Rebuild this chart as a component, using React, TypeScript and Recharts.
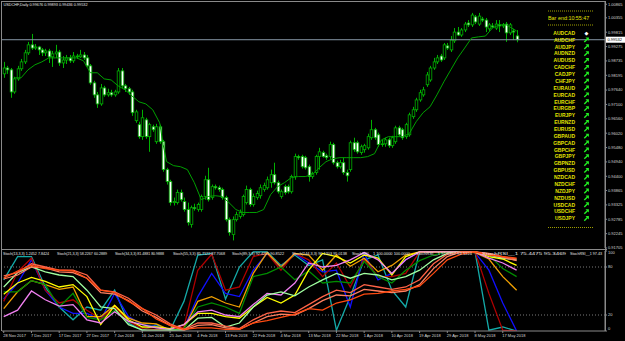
import React from "react";
import { ComposedChart, Bar, Line, XAxis, YAxis, ReferenceLine } from "recharts";

// daily candles, oldest first
const OPEN = [
  0.9825, 0.9847, 0.984, 0.9757, 0.9806, 0.9844, 0.987, 0.9904, 0.9934, 0.9922,
  0.9926, 0.9915, 0.9904, 0.9911, 0.9889, 0.99, 0.9907, 0.9866, 0.9877, 0.9885,
  0.9874, 0.9892, 0.9889, 0.9896, 0.9885, 0.9855, 0.9791, 0.9746, 0.9712, 0.9772,
  0.9746, 0.9754, 0.9746, 0.9757, 0.9836, 0.978, 0.9769, 0.9757, 0.9649, 0.9634,
  0.9589, 0.9652, 0.9589, 0.9626, 0.957, 0.9626, 0.957, 0.9465, 0.942, 0.9341,
  0.9341, 0.9379, 0.9345, 0.9315, 0.9259, 0.9322, 0.9315, 0.9315, 0.9364, 0.9427,
  0.936, 0.9401, 0.9397, 0.939, 0.936, 0.9277, 0.9221, 0.9277, 0.9289, 0.9296,
  0.9341, 0.939, 0.9334, 0.936, 0.9367, 0.939, 0.9397, 0.9416, 0.9446, 0.9416,
  0.9364, 0.9401, 0.9401, 0.9382, 0.9439, 0.9514, 0.9514, 0.951, 0.9476, 0.9439,
  0.9454, 0.9514, 0.9529, 0.9517, 0.9514, 0.9559, 0.9491, 0.9476, 0.9491, 0.9454,
  0.9465, 0.9566, 0.9566, 0.9529, 0.954, 0.9547, 0.9585, 0.9615, 0.9596, 0.9559,
  0.9562, 0.9577, 0.9555, 0.957, 0.9622, 0.9615, 0.9589, 0.9596, 0.9664, 0.969,
  0.9727, 0.9746, 0.9784, 0.9802, 0.9847, 0.987, 0.9892, 0.9885, 0.993, 0.9915,
  0.9949, 0.9982, 0.9971, 0.999, 1.0016, 1.0009, 1.0039, 1.0012, 1.0031, 1.0027,
  0.9994, 1.0005, 0.9997, 1.0009, 1.0005, 1.0012, 0.9979, 0.9986, 0.99676,
];
const HIGH = [
  0.987, 0.9855, 0.9847, 0.9814, 0.9855, 0.9881, 0.9915, 0.9945, 0.9975, 0.9937,
  0.993, 0.9922, 0.9919, 0.9919, 0.9911, 0.9934, 0.9915, 0.9892, 0.9896, 0.9896,
  0.9907, 0.99, 0.9915, 0.9907, 0.9896, 0.9862, 0.9799, 0.9757, 0.9787, 0.978,
  0.9769, 0.9765, 0.9765, 0.9847, 0.9847, 0.9787, 0.9776, 0.9765, 0.969, 0.9645,
  0.969, 0.966, 0.9641, 0.9634, 0.9637, 0.9634, 0.9577, 0.9472, 0.9427, 0.936,
  0.939, 0.939, 0.936, 0.9341, 0.933, 0.9337, 0.9341, 0.9371, 0.9442, 0.9472,
  0.9409, 0.9409, 0.9405, 0.9397, 0.9367, 0.9285, 0.9289, 0.9307, 0.9315, 0.9371,
  0.9405, 0.9397, 0.9375, 0.9386, 0.9409, 0.9416, 0.9439, 0.9465, 0.9491, 0.9424,
  0.939, 0.9409, 0.9409, 0.9446, 0.9525, 0.9521, 0.9521, 0.9517, 0.9484, 0.9457,
  0.9521, 0.9547, 0.9536, 0.9525, 0.957, 0.9566, 0.9499, 0.9502, 0.951, 0.9465,
  0.9574, 0.9585, 0.9574, 0.9559, 0.9562, 0.96, 0.9652, 0.9622, 0.9604, 0.9577,
  0.9585, 0.9585, 0.9592, 0.963, 0.963, 0.9622, 0.9641, 0.9679, 0.9701, 0.9735,
  0.9765, 0.9776, 0.9832, 0.9855, 0.9885, 0.9896, 0.99, 0.9941, 0.9941, 0.9967,
  0.9997, 1.0001, 0.9997, 1.002, 1.0027, 1.0054, 1.0046, 1.0054, 1.0039, 1.0035,
  1.0016, 1.0016, 1.0027, 1.0027, 1.0016, 1.002, 1.0016, 0.9994, 0.99893,
];
const LOW = [
  0.981, 0.9825, 0.9735, 0.975, 0.9799, 0.9836, 0.9862, 0.9896, 0.9915, 0.9915,
  0.9896, 0.9892, 0.9892, 0.9866, 0.9851, 0.9885, 0.9855, 0.9847, 0.9862, 0.9866,
  0.9866, 0.9881, 0.9885, 0.9877, 0.9851, 0.9784, 0.9735, 0.9697, 0.9705, 0.9739,
  0.9739, 0.9739, 0.9739, 0.975, 0.9772, 0.9757, 0.9746, 0.9667, 0.9641, 0.9581,
  0.9577, 0.9581, 0.9532, 0.9607, 0.9562, 0.9562, 0.9457, 0.9409, 0.933, 0.933,
  0.9334, 0.9345, 0.9307, 0.9255, 0.9247, 0.9311, 0.9307, 0.9307, 0.9352, 0.9345,
  0.9352, 0.939, 0.9382, 0.9352, 0.927, 0.9217, 0.9199, 0.927, 0.9281, 0.9289,
  0.9334, 0.9326, 0.9326, 0.9352, 0.9356, 0.9382, 0.939, 0.9397, 0.9409, 0.9375,
  0.9356, 0.9371, 0.9375, 0.9375, 0.9427, 0.9502, 0.9469, 0.9465, 0.942, 0.9431,
  0.9446, 0.9465, 0.951, 0.9502, 0.9506, 0.9484, 0.9469, 0.9469, 0.9446, 0.942,
  0.9457, 0.9532, 0.9525, 0.9521, 0.9529, 0.954, 0.9577, 0.9577, 0.9551, 0.9551,
  0.9551, 0.9547, 0.9547, 0.9562, 0.9589, 0.9577, 0.9581, 0.9589, 0.9656, 0.9682,
  0.972, 0.9739, 0.9776, 0.9795, 0.984, 0.9862, 0.987, 0.9877, 0.9915, 0.9907,
  0.9941, 0.9967, 0.9964, 0.9982, 1.0001, 1.0001, 1.0012, 1.0005, 1.002, 0.9982,
  0.9986, 0.9997, 0.999, 0.9982, 0.9997, 0.9945, 0.9971, 0.9952, 0.99436,
];
const CLOSE = [
  0.9847, 0.984, 0.9757, 0.9806, 0.9844, 0.987, 0.9904, 0.9934, 0.9922, 0.9926,
  0.9915, 0.9904, 0.9911, 0.9889, 0.99, 0.9907, 0.9866, 0.9877, 0.9885, 0.9874,
  0.9892, 0.9889, 0.9896, 0.9885, 0.9855, 0.9791, 0.9746, 0.9712, 0.9772, 0.9746,
  0.9754, 0.9746, 0.9757, 0.9836, 0.978, 0.9769, 0.9757, 0.9679, 0.9682, 0.9589,
  0.966, 0.9589, 0.9634, 0.9615, 0.9626, 0.957, 0.9465, 0.942, 0.9341, 0.9345,
  0.9379, 0.9352, 0.9315, 0.9266, 0.9322, 0.9319, 0.9334, 0.9364, 0.9427, 0.9352,
  0.9401, 0.9397, 0.939, 0.936, 0.9277, 0.9229, 0.9277, 0.9296, 0.9304, 0.9364,
  0.939, 0.9334, 0.9364, 0.9375, 0.9397, 0.9405, 0.9427, 0.9446, 0.9416, 0.9382,
  0.9382, 0.9379, 0.9382, 0.9439, 0.9514, 0.951, 0.9476, 0.9472, 0.9439, 0.945,
  0.9514, 0.9532, 0.9514, 0.951, 0.9559, 0.9491, 0.9476, 0.9491, 0.9454, 0.9442,
  0.9566, 0.954, 0.9532, 0.9551, 0.9555, 0.9589, 0.9615, 0.9585, 0.9559, 0.9562,
  0.9577, 0.9555, 0.9585, 0.9622, 0.9596, 0.9585, 0.9634, 0.9671, 0.969, 0.9727,
  0.9754, 0.9765, 0.9821, 0.9847, 0.987, 0.9885, 0.9877, 0.9934, 0.9922, 0.9952,
  0.9982, 0.9971, 0.999, 1.0012, 1.0009, 1.0046, 1.002, 1.0042, 1.0027, 1.0001,
  1.0009, 1.0001, 1.0012, 1.0005, 1.0009, 0.9979, 1.0009, 0.9982, 0.99532,
];

// moving average, read at every other bar
const MA_BARS = [
  3, 5, 7, 9, 11, 13, 15, 17, 19, 21, 23, 25, 27, 29, 31, 33, 35, 37, 39, 41, 43, 45, 46,
  47, 49, 51, 53, 55, 57, 59, 61, 63, 65, 67, 69, 71, 73, 75, 77, 79, 81, 83, 85, 87, 89,
  91, 93, 95, 97, 99, 101, 103, 105, 107, 109, 111, 113, 115, 117, 119, 121, 123, 125,
  127, 129, 131, 133, 135, 137, 139, 141, 143, 145, 147, 148,
];
const MA = [
  0.981, 0.981, 0.984, 0.9859, 0.987, 0.9885, 0.9885, 0.9885, 0.9885, 0.9885, 0.9874,
  0.9829, 0.9829, 0.9806, 0.9802, 0.978, 0.9765, 0.9742, 0.972, 0.9712, 0.969, 0.9641,
  0.9559, 0.9495, 0.948, 0.9476, 0.9465, 0.9416, 0.9352, 0.9364, 0.9367, 0.9364, 0.9341,
  0.9315, 0.9304, 0.9304, 0.9304, 0.9315, 0.9371, 0.9401, 0.9416, 0.9435, 0.9439, 0.9439,
  0.9446, 0.9472, 0.9495, 0.9506, 0.951, 0.951, 0.951, 0.951, 0.9514, 0.9525, 0.9577,
  0.9589, 0.9589, 0.9589, 0.96, 0.9645, 0.9679, 0.9701, 0.9746, 0.9795, 0.984, 0.9885,
  0.9922, 0.996, 0.9964, 0.9967, 0.9997, 1.0009, 1.0009, 0.9994, 0.9986,
];

const SLOTS = 174; // bars plus the empty shift on the right
const BID = 0.99532;
const PRICE_TICKS = [
  1.00865, 1.00355, 0.99815, 0.99275, 0.98735, 0.98195, 0.9764, 0.971, 0.9656, 0.9602,
  0.9548, 0.9494, 0.944, 0.93865, 0.93325, 0.92785, 0.92245, 0.91705,
];
const DATE_TICKS = [0, 8, 16, 24, 32, 40, 48, 56, 64, 72, 80, 88, 96, 104, 112, 120, 128, 136, 144];
const DATE_LABELS = [
  "28 Nov 2017", "7 Dec 2017", "17 Dec 2017", "27 Dec 2017", "7 Jan 2018", "16 Jan 2018",
  "25 Jan 2018", "4 Feb 2018", "13 Feb 2018", "22 Feb 2018", "4 Mar 2018", "13 Mar 2018",
  "22 Mar 2018", "1 Apr 2018", "10 Apr 2018", "19 Apr 2018", "29 Apr 2018", "8 May 2018",
  "17 May 2018",
];

// oscillators, read every 4th bar
const STOCH_BARS = [
  0, 4, 8, 12, 16, 20, 24, 28, 32, 36, 40, 44, 48, 52, 56, 60, 64, 68, 72, 76, 80, 84, 88,
  92, 96, 100, 104, 108, 112, 116, 120, 124, 128, 132, 136, 140, 144, 148,
];
const TEAL = [64, 93, 93, 55, 30, 14, 30, 26, 51, 10, 1, 8, 1, 37, 95, 97, 40, 80, 99, 99, 82, 95, 82, 89, 1, 43, 89, 95, 51, 30, 99, 99, 99, 99, 99, 1, 5, 0];
const BLUE = [40, 60, 89, 51, 30, 22, 22, 14, 47, 18, 8, 6, 1, 3, 43, 72, 47, 43, 76, 97, 80, 97, 85, 74, 76, 30, 97, 64, 72, 89, 99, 99, 99, 99, 98, 76, 35, 0];
const DARKRED = [37, 74, 91, 51, 35, 39, 26, 15, 30, 12, 3, 2, 1, 5, 76, 96, 51, 55, 93, 97, 76, 97, 89, 68, 85, 55, 90, 68, 68, 72, 99, 99, 99, 99, 99, 47, 1, 0];
const ORANGE = [28, 49, 63, 58, 52, 55, 18, 18, 32, 16, 10, 9, 1, 3, 37, 43, 35, 30, 72, 98, 80, 97, 95, 76, 95, 81, 91, 74, 82, 95, 99, 99, 99, 99, 98, 90, 68, 51];
const DARKGREEN = [49, 49, 63, 58, 30, 47, 17, 14, 26, 12, 8, 5, 1, 3, 30, 35, 30, 22, 68, 72, 80, 64, 75, 60, 62, 60, 87, 68, 60, 76, 88, 95, 99, 99, 99, 95, 78, 68];
const YELLOW = [46, 60, 67, 62, 55, 58, 43, 8, 32, 14, 5, 5, 3, 8, 22, 22, 18, 16, 30, 42, 35, 45, 76, 97, 93, 85, 95, 91, 70, 93, 99, 99, 99, 99, 99, 93, 90, 82];
const VIOLET = [18, 26, 50, 39, 31, 33, 14, 10, 24, 12, 8, 4, 2, 8, 24, 26, 20, 18, 33, 47, 45, 60, 85, 80, 82, 89, 98, 89, 72, 89, 99, 99, 99, 99, 99, 91, 85, 76];
const LIGHTGREEN = [55, 73, 80, 74, 70, 68, 51, 30, 28, 8, 1, 1, 1, 1, 16, 17, 5, 10, 30, 45, 49, 44, 55, 64, 72, 66, 72, 70, 64, 68, 76, 89, 97, 99, 99, 95, 91, 89];
const CORAL = [65, 70, 80, 79, 74, 73, 66, 48, 46, 38, 25, 17, 7, 1, 7, 8, 4, 2, 10, 18, 21, 20, 28, 38, 45, 44, 52, 50, 48, 50, 58, 78, 93, 99, 99, 96, 92, 88];
const TOMATO = [69, 73, 84, 80, 76, 76, 70, 51, 49, 41, 28, 20, 9, 2, 10, 10, 6, 3, 14, 22, 25, 23, 33, 43, 51, 48, 58, 55, 52, 55, 64, 84, 96, 99, 99, 97, 93, 90];
const ORANGERED = [66, 75, 82, 78, 76, 75, 66, 51, 48, 37, 28, 15, 7, 2, 4, 4, 2, 2, 10, 13, 17, 21, 28, 26, 35, 39, 46, 47, 50, 52, 56, 72, 89, 96, 99, 95, 93, 91];

const STOCH_LEGEND = [
  { x: 3, w: 46, t: "Stoch(13,3,3) 1.2452 7.8424" },
  { x: 57, w: 50, t: "Stoch(21,3,3) 58.2267 60.2889" },
  { x: 115, w: 49, t: "Stoch(34,3,3) 81.4881 80.9888" },
  { x: 173, w: 52, t: "Stoch(55,3,3) 85.7122 87.7068" },
  { x: 232, w: 52, t: "Stoch(89,3,3) 92.4255 90.8522" },
  { x: 292, w: 55, t: "Stoch(144,3,3) 96.1203 95.0138" },
  { x: 352, w: 58, t: "StochRSI__1 100.0000 100.0000" },
  { x: 416, w: 56, t: "StochRSI__1 91.0357 93.1224" },
  { x: 482, w: 84, t: "StochRSI__1 75.4475 95.3469" },
  { x: 570, w: 32, t: "StochRSI__1 97.43" },
];

const PAIRS = [
  "AUDCAD", "AUDCHF", "AUDJPY", "AUDNZD", "AUDUSD", "CADCHF", "CADJPY", "CHFJPY", "EURAUD",
  "EURCAD", "EURCHF", "EURGBP", "EURJPY", "EURNZD", "EURUSD", "GBPAUD", "GBPCAD", "GBPCHF",
  "GBPJPY", "GBPNZD", "GBPUSD", "NZDCAD", "NZDCHF", "NZDJPY", "NZDUSD", "USDCAD", "USDCHF",
  "USDJPY",
];

const FONT = "'Liberation Sans', Arial, sans-serif";
const WICK = "#00b000";
const FRAME = "#8a8a8a";
const YELLOW_TXT = "#e2e200";

const priceRows: any[] = Array.from({ length: SLOTS }, (_, i) => {
  const has = i < OPEN.length;
  return {
    i,
    o: has ? OPEN[i] : null,
    h: has ? HIGH[i] : null,
    l: has ? LOW[i] : null,
    c: has ? CLOSE[i] : null,
    range: has ? [LOW[i], HIGH[i]] : null,
    ma: null,
  };
});
MA_BARS.forEach((b, k) => {
  priceRows[b].ma = MA[k];
});

const STOCH_LINES = [
  { key: "teal", vals: TEAL, color: "#14aaa8" },
  { key: "blue", vals: BLUE, color: "#1010ff" },
  { key: "darkred", vals: DARKRED, color: "#b00000" },
  { key: "orange", vals: ORANGE, color: "#f0a000" },
  { key: "darkgreen", vals: DARKGREEN, color: "#008c00" },
  { key: "yellow", vals: YELLOW, color: "#ffff00" },
  { key: "violet", vals: VIOLET, color: "#f080f0" },
  { key: "lightgreen", vals: LIGHTGREEN, color: "#a0ffa0" },
  { key: "coral", vals: CORAL, color: "#ff7f60" },
  { key: "tomato", vals: TOMATO, color: "#ff6347" },
  { key: "orangered", vals: ORANGERED, color: "#ff4a10" },
];

const stochRows: any[] = Array.from({ length: SLOTS }, (_, i) => ({ i }));
STOCH_BARS.forEach((b, k) => {
  STOCH_LINES.forEach((l) => {
    stochRows[b][l.key] = l.vals[k];
  });
});

function Candle(props: any) {
  const { x, y, width, height, payload } = props;
  if (!payload || payload.o == null || x == null) return null;
  const top = Math.min(y, y + height);
  const span = Math.abs(height);
  const k = span / (payload.h - payload.l);
  const yO = top + (payload.h - payload.o) * k;
  const yC = top + (payload.h - payload.c) * k;
  const cx = Math.round(x + width / 2) + 0.5;
  const bodyTop = Math.min(yO, yC);
  const bodyH = Math.max(Math.abs(yO - yC), 0.8);
  const bull = payload.c >= payload.o;
  return (
    <g>
      <line x1={cx} x2={cx} y1={top} y2={top + span} stroke={WICK} strokeWidth={1} />
      <rect
        x={cx - 1.3}
        y={bodyTop}
        width={2.6}
        height={bodyH}
        fill={bull ? "#000" : "#fff"}
        stroke={WICK}
        strokeWidth={0.8}
      />
    </g>
  );
}

function PriceBox(props: any) {
  const vb = props.viewBox;
  if (!vb) return null;
  const x = vb.x + vb.width;
  const y = vb.y;
  return (
    <g>
      <rect x={x + 0.5} y={y - 3} width={19.5} height={6} fill="#fff" />
      <text x={x + 2.5} y={y + 1.5} fontSize={4} fill="#000" fontFamily={FONT}>
        {BID.toFixed(5)}
      </text>
    </g>
  );
}

function DateTick(props: any) {
  const { x, y, payload } = props;
  const idx = DATE_TICKS.indexOf(payload.value);
  if (idx < 0) return null;
  return (
    <g>
      <line x1={x} x2={x} y1={y} y2={y + 2} stroke={FRAME} strokeWidth={1} />
      <text x={x - 0.5} y={y + 6.3} fontSize={4} fill="#d8d8d8" fontFamily={FONT} textAnchor="start">
        {DATE_LABELS[idx]}
      </text>
    </g>
  );
}

function LevelTick(props: any) {
  const { x, y, payload } = props;
  const v = payload.value;
  const dy = v === 100 ? 2 : v === 0 ? -2 : 0;
  return (
    <text x={x} y={y + dy + 1.4} fontSize={4} fill="#d8d8d8" fontFamily={FONT} textAnchor="start">
      {v}
    </text>
  );
}

// chunky north-east arrow used by the signal list
function UpArrow({ cx, cy }: { cx: number; cy: number }) {
  return (
    <g transform={`translate(${cx} ${cy})`}>
      <path d="M-2.2 2.2 L1.2 -1.2" stroke="#22f022" strokeWidth={1.4} />
      <path d="M-1 -2.4 L2.4 -2.4 L2.4 1 Z" fill="#22f022" />
    </g>
  );
}

export default function App() {
  return (
    <div
      style={{
        position: "absolute",
        left: 0,
        top: 0,
        width: 625,
        height: 341,
        background: "#000",
        overflow: "hidden",
      }}
    >
      <div style={{ position: "absolute", left: 0, top: 0 }}>
        <ComposedChart width={625} height={250} data={priceRows} margin={{ top: 2, right: 0, bottom: 2, left: 2 }}>
          <XAxis dataKey="i" type="category" scale="band" hide />
          <YAxis
            orientation="right"
            type="number"
            width={20}
            domain={[0.91705, 1.0095]}
            allowDataOverflow
            ticks={PRICE_TICKS}
            interval={0}
            tickFormatter={(v: number) => v.toFixed(5)}
            tick={{ fontSize: 4, fill: "#d8d8d8", fontFamily: FONT }}
            tickSize={2}
            tickMargin={1}
            axisLine={{ stroke: FRAME }}
            tickLine={{ stroke: FRAME }}
          />
          <ReferenceLine y={BID} stroke="#8696a6" strokeWidth={1} label={<PriceBox />} />
          <Bar dataKey="range" shape={<Candle />} isAnimationActive={false} />
          <Line
            dataKey="ma"
            type="linear"
            stroke="#00a000"
            strokeWidth={1}
            dot={false}
            connectNulls
            isAnimationActive={false}
          />
        </ComposedChart>
      </div>

      <div style={{ position: "absolute", left: 0, top: 249 }}>
        <ComposedChart width={625} height={92} data={stochRows} margin={{ top: 2, right: 0, bottom: 0, left: 2 }}>
          <XAxis
            dataKey="i"
            type="category"
            scale="band"
            ticks={DATE_TICKS}
            interval={0}
            height={10}
            tickSize={0}
            tickMargin={0}
            tickLine={false}
            axisLine={{ stroke: FRAME }}
            tick={<DateTick />}
          />
          <YAxis
            orientation="right"
            type="number"
            width={20}
            domain={[0, 100]}
            allowDataOverflow
            ticks={[0, 20, 80, 100]}
            interval={0}
            tick={<LevelTick />}
            tickSize={2}
            tickMargin={1}
            axisLine={{ stroke: FRAME }}
            tickLine={{ stroke: FRAME }}
          />
          <ReferenceLine y={80} stroke="#7a7a7a" strokeDasharray="1 2" />
          <ReferenceLine y={20} stroke="#7a7a7a" strokeDasharray="1 2" />
          {STOCH_LINES.map((l) => (
            <Line
              key={l.key}
              dataKey={l.key}
              type="linear"
              stroke={l.color}
              strokeWidth={1.3}
              dot={false}
              connectNulls
              isAnimationActive={false}
            />
          ))}
        </ComposedChart>
      </div>

      <svg
        width={625}
        height={341}
        style={{ position: "absolute", left: 0, top: 0, pointerEvents: "none" }}
      >
        {/* window frames */}
        <line x1={1.5} x2={1.5} y1={1} y2={331} stroke={FRAME} />
        <line x1={1} x2={605.5} y1={1.5} y2={1.5} stroke={FRAME} />
        <line x1={1} x2={607} y1={249.5} y2={249.5} stroke={FRAME} />
        <line x1={605.5} x2={605.5} y1={1} y2={331} stroke={FRAME} />

        <text x={3.5} y={6.4} fontSize={3.8} fill="#e6e6e6" fontFamily={FONT}>
          USDCHF,Daily  0.99676 0.99893 0.99436 0.99532
        </text>

        {/* signal panel */}
        <line x1={548} x2={594} y1={11} y2={11} stroke={YELLOW_TXT} strokeDasharray="1 1" strokeWidth={0.7} />
        <text x={548} y={19.6} fontSize={5.4} fill={YELLOW_TXT} fontFamily={FONT}>
          Bar end:10:55:47
        </text>
        <line x1={548} x2={594} y1={25} y2={25} stroke={YELLOW_TXT} strokeDasharray="1 1" strokeWidth={0.7} />
        {PAIRS.map((p, k) => {
          const yc = 33 + k * 6.87;
          return (
            <g key={p}>
              <text
                x={575}
                y={yc + 1.8}
                fontSize={5}
                fill={YELLOW_TXT}
                fontFamily={FONT}
                fontWeight="bold"
                textAnchor="end"
              >
                {p}
              </text>
              {k === 0 ? (
                <text x={586.5} y={yc + 1.8} fontSize={5} fill="#ffffff" fontFamily="DejaVu Sans" textAnchor="middle">
                  ◆
                </text>
              ) : (
                <UpArrow cx={586.5} cy={yc} />
              )}
            </g>
          );
        })}
        <line x1={548} x2={594} y1={227.5} y2={227.5} stroke={YELLOW_TXT} strokeDasharray="1 1" strokeWidth={0.7} />

        {/* oscillator legend */}
        {STOCH_LEGEND.map((g) => (
          <text
            key={g.x}
            x={g.x}
            y={255.2}
            fontSize={3.4}
            fill="#e8e8e8"
            fontFamily={FONT}
            textLength={g.w}
            lengthAdjust="spacingAndGlyphs"
          >
            {g.t}
          </text>
        ))}
      </svg>
    </div>
  );
}
